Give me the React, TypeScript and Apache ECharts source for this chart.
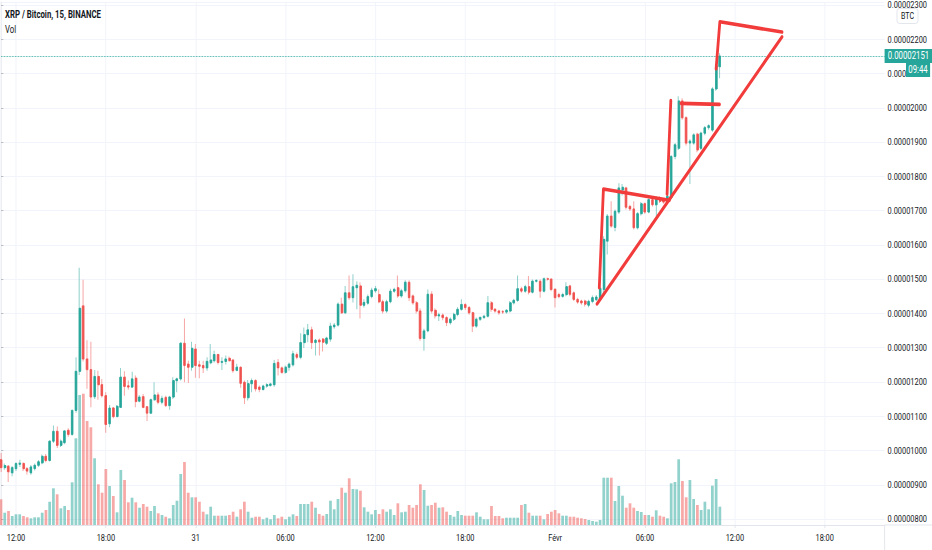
import React, { useEffect, useRef } from "react";
import * as echarts from "echarts";

// ---------- text ----------
const TITLE = "XRP / Bitcoin, 15, BINANCE";
const SUBTITLE = "Vol";
const QUOTE = "BTC";
const COUNTDOWN = "09:44";
const FONT = "Roboto, 'Noto Sans', sans-serif";

// ---------- time axis ----------
const START_UTC = Date.UTC(2020, 0, 30, 11, 0); // first candle: 30 Jan, 11:00
const STEP_MIN = 15;
const SLOTS = 237; // candles + empty space on the right
const DAY_LABELS: Record<string, string> = { "30": "30", "31": "31", "01": "Févr" };

// ---------- price axis (satoshi = 1e-8 BTC) ----------
const PRICE_MIN = 782.6;
const PRICE_MAX = 2308.7;
const PRICE_STEP = 100;
const LAST_PRICE = 2151;
// tick label partly hidden behind the countdown box: only its first chars show
const COVERED_TICK = 2100;
const COVERED_VISIBLE_CHARS = 5;

// ---------- candles: [open, close, low, high] in satoshi ----------
const OHLC: number[][] = [
  [973, 950, 937, 993], [950, 956, 944, 962], [954, 938, 908, 958], [935, 950, 925, 955], [947, 962, 940, 966],
  [960, 963, 952, 973], [962, 947, 940, 966], [947, 940, 930, 952], [935, 952, 929, 958], [947, 957, 942, 962],
  [957, 967, 952, 972], [964, 983, 960, 988], [983, 971, 966, 990], [971, 1027, 968, 1030], [1027, 1056, 1022, 1073],
  [1056, 1015, 1007, 1070], [1015, 1027, 1010, 1032], [1023, 1057, 1018, 1060], [1059, 1047, 1040, 1065], [1047, 1117, 1043, 1120],
  [1117, 1231, 1110, 1272], [1231, 1415, 1220, 1533], [1422, 1267, 1260, 1498], [1267, 1236, 1180, 1322], [1236, 1156, 1126, 1317],
  [1157, 1216, 1150, 1235], [1216, 1192, 1148, 1233], [1192, 1160, 1155, 1209], [1160, 1076, 1052, 1170], [1078, 1124, 1068, 1133],
  [1124, 1099, 1094, 1127], [1099, 1129, 1100, 1133], [1126, 1214, 1126, 1241], [1214, 1187, 1160, 1231], [1189, 1185, 1177, 1204],
  [1185, 1209, 1183, 1230], [1211, 1143, 1126, 1219], [1144, 1156, 1141, 1162], [1157, 1126, 1123, 1165], [1128, 1109, 1086, 1128],
  [1109, 1148, 1107, 1152], [1148, 1162, 1145, 1199], [1162, 1141, 1135, 1170], [1141, 1152, 1135, 1160], [1155, 1131, 1127, 1160],
  [1131, 1156, 1119, 1160], [1156, 1204, 1150, 1214], [1204, 1209, 1170, 1212], [1209, 1313, 1204, 1316], [1313, 1248, 1199, 1385],
  [1252, 1243, 1197, 1262], [1243, 1298, 1233, 1317], [1296, 1248, 1212, 1311], [1250, 1246, 1211, 1262], [1248, 1241, 1226, 1262],
  [1241, 1260, 1233, 1272], [1256, 1264, 1252, 1311], [1262, 1280, 1257, 1291], [1280, 1257, 1251, 1282], [1257, 1260, 1235, 1272],
  [1260, 1267, 1251, 1277], [1269, 1262, 1260, 1274], [1264, 1233, 1227, 1266], [1234, 1243, 1231, 1253], [1243, 1196, 1183, 1245],
  [1199, 1154, 1136, 1204], [1154, 1195, 1146, 1206], [1195, 1204, 1170, 1210], [1204, 1180, 1172, 1208], [1185, 1178, 1170, 1190],
  [1178, 1188, 1175, 1192], [1188, 1192, 1183, 1196], [1190, 1194, 1186, 1198], [1192, 1254, 1186, 1264], [1257, 1241, 1219, 1267],
  [1241, 1228, 1224, 1245], [1228, 1243, 1224, 1248], [1243, 1252, 1233, 1257], [1250, 1282, 1245, 1291], [1280, 1272, 1266, 1286],
  [1272, 1315, 1266, 1342], [1315, 1338, 1299, 1359], [1338, 1352, 1316, 1369], [1352, 1315, 1296, 1361], [1315, 1322, 1277, 1325],
  [1322, 1317, 1277, 1327], [1325, 1316, 1289, 1328], [1313, 1328, 1308, 1332], [1325, 1363, 1317, 1373], [1361, 1366, 1355, 1372],
  [1366, 1427, 1362, 1432], [1427, 1402, 1398, 1446], [1402, 1460, 1398, 1480], [1460, 1446, 1440, 1511], [1446, 1478, 1432, 1514],
  [1475, 1482, 1412, 1494], [1480, 1424, 1385, 1490], [1424, 1432, 1417, 1441], [1430, 1449, 1425, 1455], [1449, 1468, 1444, 1475],
  [1466, 1472, 1460, 1480], [1455, 1434, 1430, 1470], [1434, 1407, 1400, 1440], [1407, 1434, 1402, 1440], [1434, 1465, 1430, 1472],
  [1465, 1470, 1460, 1475], [1475, 1451, 1446, 1511], [1451, 1466, 1446, 1472], [1466, 1491, 1460, 1497], [1491, 1446, 1436, 1497],
  [1451, 1431, 1425, 1455], [1431, 1407, 1400, 1436], [1407, 1327, 1320, 1415], [1327, 1349, 1291, 1355], [1349, 1456, 1345, 1470],
  [1456, 1407, 1400, 1465], [1409, 1393, 1385, 1415], [1393, 1396, 1378, 1402], [1395, 1388, 1380, 1400], [1388, 1373, 1363, 1392],
  [1373, 1383, 1368, 1388], [1383, 1397, 1378, 1402], [1397, 1412, 1392, 1418], [1412, 1426, 1408, 1441], [1426, 1417, 1410, 1430],
  [1417, 1402, 1396, 1422], [1402, 1363, 1346, 1405], [1363, 1383, 1358, 1388], [1383, 1388, 1378, 1392], [1388, 1392, 1384, 1396],
  [1392, 1431, 1388, 1451], [1431, 1412, 1405, 1436], [1412, 1407, 1402, 1416], [1407, 1402, 1396, 1411], [1405, 1404, 1398, 1410],
  [1404, 1409, 1399, 1413], [1407, 1431, 1403, 1436], [1431, 1438, 1426, 1443], [1438, 1472, 1434, 1511], [1472, 1465, 1460, 1478],
  [1465, 1478, 1460, 1484], [1478, 1462, 1455, 1509], [1462, 1494, 1458, 1499], [1494, 1496, 1490, 1500], [1494, 1465, 1446, 1499],
  [1465, 1501, 1461, 1505], [1501, 1500, 1495, 1505], [1500, 1470, 1465, 1503], [1470, 1446, 1417, 1474], [1455, 1449, 1444, 1460],
  [1450, 1455, 1446, 1460], [1455, 1478, 1450, 1491], [1480, 1456, 1450, 1484], [1460, 1441, 1436, 1464], [1441, 1433, 1428, 1446],
  [1436, 1431, 1425, 1440], [1436, 1427, 1420, 1440], [1424, 1435, 1418, 1440], [1435, 1446, 1430, 1452], [1440, 1448, 1436, 1454],
  [1441, 1473, 1438, 1478], [1470, 1616, 1455, 1625], [1611, 1684, 1572, 1690], [1684, 1655, 1650, 1727], [1651, 1698, 1640, 1703],
  [1696, 1766, 1690, 1780], [1760, 1768, 1744, 1778], [1766, 1710, 1703, 1770], [1712, 1705, 1699, 1717], [1705, 1650, 1645, 1727],
  [1650, 1691, 1645, 1696], [1691, 1720, 1686, 1725], [1720, 1696, 1691, 1724], [1696, 1732, 1692, 1736], [1732, 1717, 1712, 1740],
  [1717, 1737, 1679, 1742], [1737, 1727, 1722, 1742], [1731, 1725, 1720, 1737], [1727, 1742, 1722, 1747], [1737, 1858, 1733, 1862],
  [1858, 1892, 1850, 1897], [1882, 2020, 1877, 2034], [2020, 1971, 1965, 2028], [1971, 1897, 1890, 1975], [1897, 1903, 1778, 1908],
  [1897, 1921, 1892, 1926], [1923, 1877, 1870, 1927], [1882, 1926, 1877, 1930], [1926, 1942, 1920, 1947], [1942, 1948, 1936, 1952],
  [1935, 2055, 1930, 2060], [2055, 2123, 2050, 2128], [2120, 2151, 2086, 2159],
];

// ---------- volume (relative units) ----------
const VOLUME: number[] = [
  25.7, 12.3, 14, 9, 10.7, 10.7, 9, 7.7, 6.7, 7.7, 7.7, 12.3, 15, 23.3, 36.7, 30.7, 16.7, 19, 15, 42.7,
  86.7, 130, 131.3, 104, 97.7, 66.7, 40.7, 32.3, 56, 39, 29, 12.7, 55, 45, 22.7, 27.3, 22.7, 17.3, 21, 18.3,
  14, 19, 11.7, 10, 8.3, 6.7, 20, 24.3, 51, 63, 32.3, 27.7, 27.7, 23.3, 13.3, 10.7, 18.3, 9.3, 9.3, 9.3,
  9.3, 10, 13.3, 8.3, 15.7, 23.3, 13.3, 7.3, 8.3, 8.3, 5.7, 7.3, 5.7, 10, 6.7, 8.3, 5.7, 8.3, 10.7, 9,
  21, 21, 21, 23.3, 17.3, 11, 9.3, 11, 24.3, 15.7, 26, 37.3, 32.3, 46.7, 36, 35.7, 34.3, 17.7, 13.3, 10.7,
  15, 11, 15.7, 13.3, 15.7, 10, 21.7, 12.7, 13.3, 20, 17.3, 20, 40.7, 35, 19.3, 20, 22.3, 17.3, 17.7, 13.3,
  10, 8.3, 14, 10, 9.3, 9.3, 9.3, 12.7, 8.3, 5.7, 5.7, 19, 9, 9, 6.7, 7.3, 7.3, 7.3, 7.3, 20,
  21, 12.3, 9.3, 9.3, 9.3, 5.7, 11, 13.3, 15, 11.7, 9.3, 9.3, 8.3, 8.3, 7.3, 6.7, 6, 5, 4, 3.3,
  5, 47.3, 47.3, 47.3, 24, 39, 29.3, 17.3, 21.7, 17.3, 14, 13, 10, 10, 8.3, 14.7, 9.3, 8.3, 6.7, 41.7,
  43, 65.7, 44, 27.7, 45, 26, 20, 15, 23.3, 15.7, 39.3, 46, 18.3,
];
const VOLUME_AXIS_MAX = 160;

// ---------- hand-drawn trend lines: [candle index, price] ----------
const DRAWINGS: number[][][] = [
  [[159.2, 1428], [208.6, 2207]],
  [[159.8, 1475], [160.9, 1763], [178.5, 1730]],
  [[177.9, 1748], [178.9, 2021]],
  [[181.6, 2013], [191.9, 2010]],
  [[191.0, 2114], [192.0, 2251], [208.6, 2221]],
];

// ---------- colours ----------
const UP = "#26a69a";
const DOWN = "#ef5350";
const UP_FADE = "rgba(38,166,154,0.5)";
const DOWN_FADE = "rgba(239,83,80,0.5)";
const DRAW_RED = "#f23c3c";
const GRID_LINE = "#f0f3fa";
const AXIS_LINE = "#e0e3eb";
const TEXT = "#131722";

// ---------- layout (final pixels; page is squeezed horizontally by S) ----------
const S = 0.78;
const U = (x: number) => x / S;
const PAGE_W = 932;
const PAGE_H = 550;
const PLOT_LEFT = 1;
const PLOT_RIGHT = 884.6;
const PLOT_BOTTOM = 525;
const VOL_HEIGHT = 160;

function pad(n: number) {
  return n < 10 ? "0" + n : "" + n;
}

const CATEGORIES: string[] = [];
for (let i = 0; i < SLOTS; i++) {
  const d = new Date(START_UTC + i * STEP_MIN * 60000);
  CATEGORIES.push(`${pad(d.getUTCDate())} ${pad(d.getUTCHours())}:${pad(d.getUTCMinutes())}`);
}

const isMajor = (_idx: number, val: string) => {
  const t = String(val).split(" ")[1] || "";
  const [h, m] = t.split(":").map(Number);
  return m === 0 && h % 6 === 0;
};
const fmtTime = (val: string) => {
  const [d, t] = String(val).split(" ");
  return t === "00:00" ? DAY_LABELS[d] || d : t;
};
const fmtPrice = (v: number) => (v / 1e8).toFixed(8);
const fmtTick = (v: number) => {
  const s = fmtPrice(v);
  return Math.abs(v - COVERED_TICK) < 1e-6 ? s.slice(0, COVERED_VISIBLE_CHARS) : s;
};

export default function App() {
  const ref = useRef<HTMLDivElement>(null);

  useEffect(() => {
    document.body.style.margin = "0";
    if (!ref.current) return;
    const chart = echarts.init(ref.current, undefined, { renderer: "svg" });

    const isUp = (c: number[]) => c[1] > c[0];
    const bodies = OHLC.map((c) => [c[0], c[1], Math.min(c[0], c[1]), Math.max(c[0], c[1])]);
    const volData = VOLUME.map((v, i) => ({
      value: v,
      itemStyle: { color: isUp(OHLC[i]) ? UP_FADE : DOWN_FADE },
    }));

    const gridLeft = U(PLOT_LEFT);
    const gridWidth = U(PLOT_RIGHT - PLOT_LEFT);
    const gridRightU = gridLeft + gridWidth;

    const drawingSeries = DRAWINGS.map((pts) => ({
      type: "line",
      xAxisIndex: 2,
      yAxisIndex: 0,
      data: pts,
      symbol: "none",
      silent: true,
      z: 10,
      lineStyle: { color: DRAW_RED, width: 3.6, cap: "round", join: "round" },
    }));

    chart.setOption({
      animation: false,
      backgroundColor: "#ffffff",
      textStyle: { fontFamily: FONT },
      title: {
        left: U(5),
        top: 10,
        text: TITLE,
        subtext: SUBTITLE,
        itemGap: 5,
        padding: 0,
        textStyle: { fontSize: 10, fontWeight: "bold", color: TEXT, fontFamily: FONT },
        subtextStyle: { fontSize: 10, color: TEXT, fontFamily: FONT },
      },
      grid: [
        { left: gridLeft, width: gridWidth, top: 0, height: PLOT_BOTTOM },
        { left: gridLeft, width: gridWidth, top: PLOT_BOTTOM - VOL_HEIGHT, height: VOL_HEIGHT },
      ],
      xAxis: [
        {
          type: "category",
          gridIndex: 0,
          data: CATEGORIES,
          boundaryGap: false,
          axisLine: { show: true, lineStyle: { color: AXIS_LINE } },
          axisTick: { show: true, interval: isMajor, length: 3, lineStyle: { color: AXIS_LINE } },
          axisLabel: {
            interval: isMajor,
            formatter: fmtTime,
            color: TEXT,
            fontSize: 9.5,
            margin: 8,
            fontFamily: FONT,
          },
          splitLine: { show: true, interval: isMajor, lineStyle: { color: GRID_LINE } },
        },
        {
          type: "category",
          gridIndex: 1,
          data: CATEGORIES,
          boundaryGap: false,
          show: false,
        },
        {
          type: "value",
          gridIndex: 0,
          min: 0,
          max: SLOTS - 1,
          show: false,
        },
      ],
      yAxis: [
        {
          type: "value",
          gridIndex: 0,
          position: "right",
          min: PRICE_MIN,
          max: PRICE_MAX,
          minInterval: PRICE_STEP,
          maxInterval: PRICE_STEP,
          splitNumber: 15,
          axisLine: { show: true, lineStyle: { color: AXIS_LINE } },
          axisTick: { show: true, length: 3, lineStyle: { color: "#b2b5be" } },
          axisLabel: {
            showMinLabel: false,
            showMaxLabel: false,
            formatter: fmtTick,
            color: TEXT,
            fontSize: 9.5,
            margin: U(3),
            fontFamily: FONT,
          },
          splitLine: { show: true, lineStyle: { color: GRID_LINE } },
        },
        {
          type: "value",
          gridIndex: 1,
          min: 0,
          max: VOLUME_AXIS_MAX,
          show: false,
        },
      ],
      series: [
        {
          type: "bar",
          name: "Vol",
          xAxisIndex: 1,
          yAxisIndex: 1,
          data: volData,
          barWidth: "73%",
          silent: true,
          z: 1,
        },
        {
          type: "candlestick",
          name: "wicks",
          xAxisIndex: 0,
          yAxisIndex: 0,
          data: OHLC,
          barWidth: 1.4,
          silent: true,
          z: 3,
          itemStyle: {
            color: UP_FADE,
            color0: DOWN_FADE,
            borderColor: UP_FADE,
            borderColor0: DOWN_FADE,
            borderWidth: 1.3,
          },
        },
        {
          type: "candlestick",
          name: "XRPBTC",
          xAxisIndex: 0,
          yAxisIndex: 0,
          data: bodies,
          barWidth: 2.6,
          silent: true,
          z: 4,
          itemStyle: {
            color: UP,
            color0: DOWN,
            borderColor: UP,
            borderColor0: DOWN,
            borderWidth: 1,
          },
          markLine: {
            silent: true,
            symbol: ["none", "none"],
            data: [{ yAxis: LAST_PRICE }],
            lineStyle: { color: UP, type: "dotted", width: 1 },
            label: {
              show: true,
              position: "end",
              distance: 0,
              formatter: () => fmtPrice(LAST_PRICE),
              color: "#ffffff",
              backgroundColor: UP,
              padding: [2, 4, 2, 4],
              fontSize: 10,
              fontFamily: FONT,
            },
          },
        },
        ...drawingSeries,
      ],
      graphic: [
        {
          type: "line",
          z: 50,
          shape: { x1: gridRightU, y1: PLOT_BOTTOM, x2: U(PAGE_W), y2: PLOT_BOTTOM },
          style: { stroke: AXIS_LINE, lineWidth: 1 },
        },
        {
          type: "line",
          z: 50,
          shape: { x1: gridRightU, y1: PLOT_BOTTOM, x2: gridRightU, y2: PAGE_H },
          style: { stroke: AXIS_LINE, lineWidth: 1 },
        },
        {
          type: "rect",
          z: 50,
          shape: { x: U(897), y: 8.5, width: U(21), height: 15, r: 3 },
          style: { fill: "#ffffff", stroke: AXIS_LINE, lineWidth: 1 },
        },
        {
          type: "text",
          z: 51,
          x: U(907.5),
          y: 16,
          style: {
            text: QUOTE,
            fill: TEXT,
            fontSize: 9,
            fontFamily: FONT,
            align: "center",
            verticalAlign: "middle",
          },
        },
        {
          type: "text",
          z: 51,
          x: U(906),
          y: 62,
          style: {
            text: COUNTDOWN,
            fill: "#ffffff",
            fontSize: 10,
            fontFamily: FONT,
            backgroundColor: UP,
            padding: [3, 3, 2, 3],
            align: "left",
            verticalAlign: "top",
          },
        },
      ],
    });

    return () => chart.dispose();
  }, []);

  return (
    <div style={{ width: PAGE_W, height: PAGE_H, overflow: "hidden", position: "relative" }}>
      <div
        ref={ref}
        style={{
          width: U(PAGE_W),
          height: PAGE_H,
          transform: `scaleX(${S})`,
          transformOrigin: "0 0",
        }}
      />
    </div>
  );
}
